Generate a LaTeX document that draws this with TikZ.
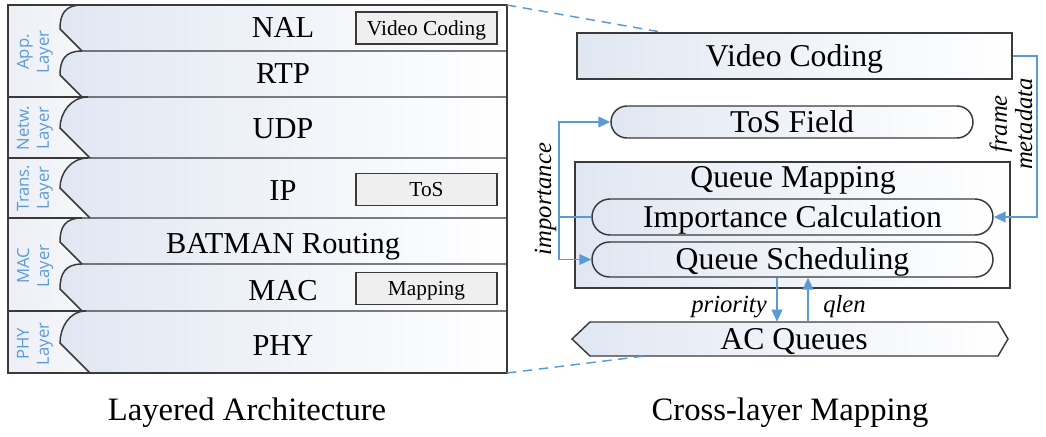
\documentclass[tikz,border=0pt]{standalone}
\usepackage{fontspec}
\setmainfont{Liberation Serif}
\newfontfamily\labsans{Open Sans}
\usetikzlibrary{arrows.meta,shapes.misc,calc}
\definecolor{lb}{HTML}{5B9BD5}
\definecolor{shadeblue}{HTML}{E1E7F2}
\definecolor{shademid}{HTML}{F3F5FA}
\definecolor{colA}{HTML}{ECEFF5}
\definecolor{colB}{HTML}{F7F8FB}
\definecolor{edge}{HTML}{3A3A3A}
\definecolor{smallfill}{HTML}{EFEFEF}
\def\pxu{0.75pt}
\tikzset{
  rowtext/.style={font=\fontsize{22.8}{27}\selectfont, anchor=base, inner sep=0pt},
  captext/.style={font=\fontsize{24.5}{29}\selectfont, anchor=base, inner sep=0pt},
  smallbox/.style={draw=edge, fill=smallfill, line width=1pt, minimum width=141*\pxu, minimum height=32*\pxu, inner sep=0pt, text height=10.6pt, text depth=0pt, font=\fontsize{16}{19}\selectfont},
  layerlab/.style={rotate=90, align=center, text=lb, font=\labsans\fontsize{12.5}{15}\selectfont, inner sep=0pt},
  rowline/.style={draw=edge, line width=1.1pt},
  gradfill/.style={left color=shadeblue, middle color=shademid, right color=white},
  gradbox/.style={draw=edge, line width=1.1pt, gradfill, inner sep=0pt, text height=15.7pt, text depth=0pt, font=\fontsize{23.8}{28}\selectfont},
  roundbox/.style={gradbox, rounded rectangle},
  flow/.style={draw=lb, line width=1.3pt, -{Triangle[length=9pt,width=8pt]}},
  flowline/.style={draw=lb, line width=1.3pt},
  flowlab/.style={font=\itshape\fontsize{18.5}{19}\selectfont, inner sep=0pt},
  zoomline/.style={draw=lb, line width=1.1pt, dash pattern=on 7pt off 5pt},
}
\begin{document}
\begin{tikzpicture}[x=0.75pt,y=-0.75pt]
\useasboundingbox (0,0) rectangle (1046,436);
% ---------- left: layered architecture ----------
\shade[left color=colA, right color=colB] (8,5) rectangle (92,373);
\foreach \ya/\yb/\xt/\xb in {5/51/82/82,51/97/82/82,97/158/88/90,158/218/88/90,218/264/82/82,264/311/82/82,311/373/86/90}{
  \pgfmathsetmacro\yl{\yb-\xb+60}
  \shade[gradfill] (\xt,\ya) .. controls (\xt-17,\ya) and (60,\yl-15) .. (60,\yl) -- (\xb,\yb) -- (507,\yb) -- (507,\ya) -- cycle;
  \draw[rowline] (507,\ya) -- (\xt,\ya) .. controls (\xt-17,\ya) and (60,\yl-15) .. (60,\yl) -- (\xb,\yb);
}
\draw[rowline] (8,97) -- (88,97);
\draw[rowline] (8,158) -- (88,158);
\draw[rowline] (8,218) -- (82,218);
\draw[rowline] (8,311) -- (86,311);
\draw[edge, line width=1.4pt] (8,5) rectangle (507,373);
\coordinate (lpne) at (507,5);
\coordinate (lpse) at (507,373);

\node[layerlab] (lapp) at (35,52) {App.\\Layer};
\node[layerlab] (lnet) at (35,128) {Netw.\\Layer};
\node[layerlab] (ltra) at (35,188) {Trans.\\Layer};
\node[layerlab] (lmac) at (35,266) {MAC\\Layer};
\node[layerlab] (lphy) at (35,344) {PHY\\Layer};

\node[rowtext] (nal) at (283,37) {NAL};
\node[rowtext] (rtp) at (283,83) {RTP};
\node[rowtext] (udp) at (283,138) {UDP};
\node[rowtext] (ip) at (283,200) {IP};
\node[rowtext] (bat) at (283,253) {BATMAN Routing};
\node[rowtext] (mac) at (283,300) {MAC};
\node[rowtext] (phy) at (283,355) {PHY};

\node[smallbox] (svc) at (426.5,28) {Video Coding};
\node[smallbox] (stos) at (426.5,189.5) {ToS};
\node[smallbox] (smap) at (426.5,288.5) {Mapping};

% ---------- right: cross-layer mapping ----------
\node[gradbox, minimum width=435*\pxu, minimum height=46*\pxu] (vc) at (794.5,56) {Video Coding};
\node[roundbox, minimum width=362*\pxu, minimum height=32*\pxu] (tos) at (792,122) {ToS Field};
\node[gradbox, minimum width=435*\pxu, minimum height=126*\pxu] (qm) at (792.5,225) {};
\node[inner sep=0pt, text height=15.7pt, text depth=0pt, font=\fontsize{23.8}{28}\selectfont] (qmt) at (793,177.5) {Queue Mapping};
\node[roundbox, minimum width=401*\pxu, minimum height=36*\pxu] (ic) at (792.5,217) {Importance Calculation};
\node[roundbox, minimum width=401*\pxu, minimum height=35*\pxu] (qs) at (792.5,259.5) {Queue Scheduling};
\shade[gradfill] (572,339) -- (590,322) -- (998,322) -- (1008,339) -- (998,356) -- (590,356) -- cycle;
\draw[edge, line width=1.1pt] (572,339) -- (590,322) -- (998,322) -- (1008,339) -- (998,356) -- (590,356) -- cycle;
\node[inner sep=0pt, minimum width=408*\pxu, minimum height=34*\pxu, text height=15.7pt, text depth=0pt, font=\fontsize{23.8}{28}\selectfont] (acq) at (794,339) {AC Queues};

% connectors
\coordinate (impx) at (559,217);
\draw[flowline] (ic.west) -- (impx);
\draw[flow] (impx) |- (tos.west);
\draw[flow] (impx) |- (qs.west);
\node[flowlab, rotate=90, anchor=base] (implab) at (551,199) {importance};

\coordinate (fmx) at (1037,56);
\draw[flow] (vc.east) -- (fmx) |- (ic.east);
\node[flowlab, rotate=90, align=center] (fmlab) at (1011,124) {frame\\metadata};

\coordinate (prx) at (777,300);
\draw[flow] (prx |- qs.south) -- (prx |- acq.north);
\node[flowlab, anchor=base east] (prlab) at (767,312) {priority};

\coordinate (qlx) at (808,300);
\draw[flow] (qlx |- acq.north) -- (qlx |- qs.south);
\node[flowlab, anchor=base west] (qllab) at (823,312) {qlen};

\draw[zoomline] (lpne) -- ($(vc.north west)+(86,0)$);
\draw[zoomline] (lpse) -- ($(acq.south west)+(53,0)$);

% captions
\node[captext] (cap1) at (247,420) {Layered Architecture};
\node[captext] (cap2) at (790,420) {Cross-layer Mapping};
\end{tikzpicture}
\end{document}
